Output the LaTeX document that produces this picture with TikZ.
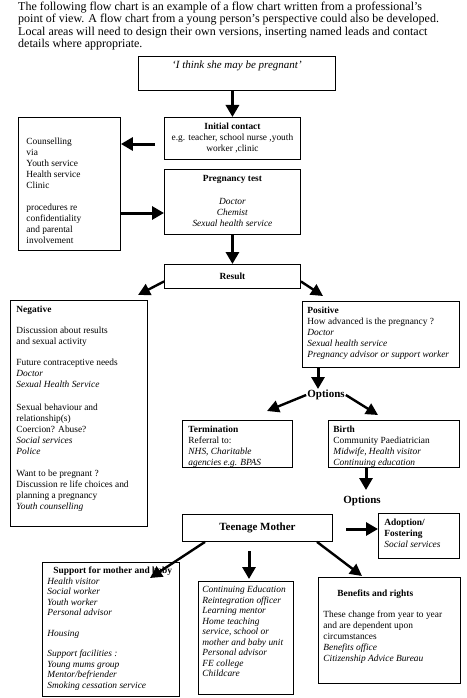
\documentclass[tikz,border=0pt]{standalone}
\usepackage{fontspec}
\setmainfont{Liberation Serif}
\usetikzlibrary{arrows.meta,calc}
% #1 width, #2 height, #3 paragraph alignment, #4 column spec, #5 rows
\newcommand\bxt[5]{\parbox[c][\dimexpr#2pt-8pt\relax][t]{\dimexpr#1pt-8pt\relax}{#3\begin{tabular}[t]{#4}#5\end{tabular}\par}}
\begin{document}
\begin{tikzpicture}[x=1pt,y=-1pt,
  box/.style={draw, line width=0.9pt, anchor=north west, inner xsep=4pt, inner ysep=4pt, font=\fontsize{9.4}{11}\selectfont},
  sbox/.style={draw, line width=0.9pt, anchor=north west, inner sep=0pt, font=\fontsize{9.4}{11}\selectfont\bfseries},
  arr/.style={line width=3pt, -{Triangle[width=13pt,length=12pt]}},
  darr/.style={line width=2.4pt, -{Triangle[width=12pt,length=12pt]}},
  hdr/.style={anchor=base west, inner sep=0pt, font=\fontsize{12}{13}\selectfont},
  opt/.style={inner sep=1pt, font=\fontsize{11}{13}\selectfont\bfseries}]
\useasboundingbox (0,0) rectangle (466,698);

\node[hdr] (h1) at (18,10.5) {The following flow chart is an example of a flow chart written from a professional’s};
\node[hdr] (h2) at (18,23) {point of view. A flow chart from a young person’s perspective could also be developed.};
\node[hdr] (h3) at (18,35.5) {Local areas will need to design their own versions, inserting named leads and contact};
\node[hdr] (h4) at (18,48) {details where appropriate.};

\node[box] (think) at (138,56) {\bxt{197}{34}{\centering}{@{}c@{}}{\fontsize{11}{12}\selectfont\itshape ‘I think she may be pregnant’}};

\node[box] (initial) at (164,117) {\bxt{136}{42}{\centering}{@{}c@{}}{\textbf{Initial contact}\\ e.g. teacher, school nurse ,youth\\ worker ,clinic}};

\node[box] (couns) at (18,117) {\bxt{102}{133}{\raggedright}{@{\hspace{4pt}}l@{}}{\\[4pt] Counselling\\ via\\ Youth service\\ Health service\\ Clinic\\[11pt] procedures re\\ confidentiality\\ and parental\\ involvement}};

\node[box] (preg) at (164,169) {\bxt{136}{65}{\centering}{@{}c@{}}{\textbf{Pregnancy test}\\[12pt] \textit{Doctor}\\ \textit{Chemist}\\ \textit{Sexual health service}}};

\node[sbox, minimum width=136pt, minimum height=24pt] (result) at (164,264) {Result};

\node[box] (neg) at (10,300) {\bxt{137}{226}{\raggedright}{@{\hspace{2pt}}l@{}}{\textbf{Negative}\\[10pt] Discussion about results\\ and sexual activity\\[10pt] Future contraceptive needs\\ \textit{Doctor}\\ \textit{Sexual Health Service}\\[12pt] Sexual behaviour and\\ relationship(s)\\ Coercion? Abuse?\\ \textit{Social services}\\ \textit{Police}\\[11pt] Want to be pregnant ?\\ Discussion re life choices and\\ planning a pregnancy\\ \textit{Youth counselling}}};

\node[box] (pos) at (302,301) {\bxt{157}{66}{\raggedright}{@{\hspace{1pt}}l@{}}{\textbf{Positive}\\ How advanced is the pregnancy ?\\ \textit{Doctor}\\ \textit{Sexual health service}\\ \textit{Pregnancy advisor or support worker}}};

\node[opt] (opt1) at (326,395) {Options};

\node[box] (term) at (182,420) {\bxt{110}{47}{\raggedright}{@{\hspace{2pt}}l@{}}{\textbf{Termination}\\ Referral to:\\ \textit{NHS, Charitable}\\ \textit{agencies e.g. BPAS}}};

\node[box] (birth) at (328,420) {\bxt{131}{47}{\raggedright}{@{\hspace{1pt}}l@{}}{\textbf{Birth}\\ Community Paediatrician\\ \textit{Midwife, Health visitor}\\ \textit{Continuing education}}};

\node[opt] (opt2) at (362,501) {Options};

\node[sbox, minimum width=150pt, minimum height=27pt, font=\fontsize{11}{13}\selectfont\bfseries] (teen) at (182,514) {Teenage Mother};

\node[box] (adopt) at (378,513) {\bxt{81}{45}{\raggedright}{@{\hspace{2pt}}l@{}}{\textbf{Adoption/}\\ \textbf{Fostering}\\ \textit{Social services}}};

\node[box, font=\fontsize{9.4}{10.5}\selectfont] (supp) at (42,562) {\bxt{137}{134}{\raggedright}{@{\hspace{1pt}}l@{}}{\hspace{6pt}\textbf{Support for mother and baby}\\ \textit{Health visitor}\\ \textit{Social worker}\\ \textit{Youth worker}\\ \textit{Personal advisor}\\[10pt] \textit{Housing}\\[10pt] \textit{Support facilities :}\\ \textit{Young mums group}\\ \textit{Mentor/befriender}\\ \textit{Smoking cessation service}}};

\node[box, font=\fontsize{9.4}{10.5}\selectfont] (contEd) at (198,581) {\bxt{95}{113}{\raggedright}{@{}l@{}}{\textit{Continuing Education}\\ \textit{Reintegration officer}\\ \textit{Learning mentor}\\ \textit{Home teaching}\\ \textit{service, school or}\\ \textit{mother and baby unit}\\ \textit{Personal advisor}\\ \textit{FE college}\\ \textit{Childcare}}};

\node[box] (benef) at (318,577) {\bxt{142}{106}{\raggedright}{@{\hspace{1pt}}l@{}}{\\[-4pt]\hspace{14pt}\textbf{Benefits and rights}\\[10pt] These change from year to year\\ and are dependent upon\\ circumstances\\ \textit{Benefits office}\\ \textit{Citizenship Advice Bureau}}};

% connectors
\draw[arr] (initial.north |- think.south) -- (initial.north);
\coordinate (p2) at (155,144);
\draw[arr] (p2) -- (p2 -| couns.east);
\coordinate (p3) at (0,213);
\draw[arr] (p3 -| couns.east) -- (p3 -| preg.west);
\draw[arr] (preg.south) -- (result.north);
\coordinate (p5) at (138,295);
\draw[darr] ($(result.west)+(0,5)$) -- (p5);
\coordinate (p6) at (323,296);
\draw[darr] ($(result.east)+(0,5)$) -- (p6);
\coordinate (p7) at (318,389);
\draw[arr] (p7 |- pos.south) -- (p7);
\coordinate (p8) at (267,411);
\draw[darr] (opt1.west) -- (p8);
\coordinate (p9) at (378,415);
\draw[darr] (opt1.east) -- (p9);
\coordinate (p10) at (366,490);
\draw[arr] (p10 |- birth.south) -- (p10);
\coordinate (p11) at (346,529);
\draw[arr] (p11) -- (p11 -| adopt.west);
\coordinate (p12a) at (205,0);
\coordinate (p12) at (150,578);
\draw[darr] (p12a |- teen.south) -- (p12);
\coordinate (p13a) at (249,551);
\coordinate (p13) at (249,579);
\draw[arr] (p13a) -- (p13);
\coordinate (p14a) at (317,0);
\coordinate (p14) at (362,576);
\draw[darr] (p14a |- teen.south) -- (p14);
\end{tikzpicture}
\end{document}
